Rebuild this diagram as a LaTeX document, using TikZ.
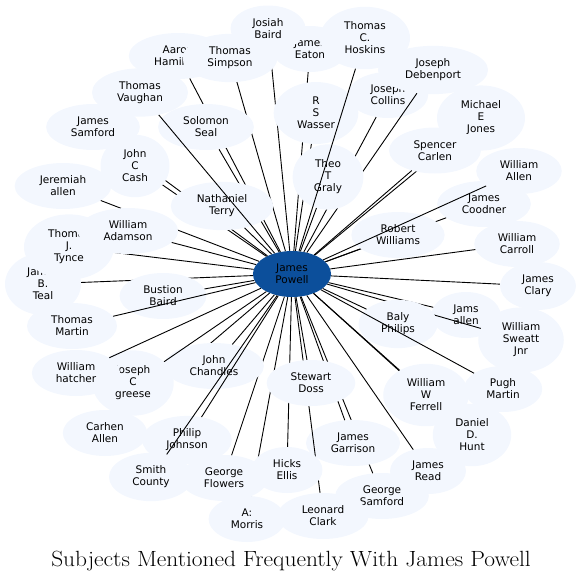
\documentclass[tikz,border=0pt]{standalone}
\usepackage{fontspec}
\newfontfamily\dejavu{DejaVu Sans}
\usetikzlibrary{shapes.geometric}
\definecolor{cPale}{RGB}{243,247,254}
\definecolor{cHub}{RGB}{12,79,155}
\newcommand{\personfont}{\dejavu\fontsize{10.5}{12}\selectfont}
\tikzset{
	person/.style={ellipse, fill=cPale, align=center, font=\personfont, inner xsep=11pt, inner ysep=6pt, minimum width=69pt, minimum height=46pt},
	hub/.style={person, fill=cHub},
	link/.style={line width=0.9pt, black},
}

\begin{document}
\begin{tikzpicture}[x=1pt, y=-1pt]
	\useasboundingbox (0,0) rectangle (583,581);
	\node[hub] (jp) at (292,274) {James\\Powell};
	% top
	\node[person] (eaton) at (310,49) {James\\Eaton}; \draw[link] (jp) -- (eaton);
	\node[person] (josiah) at (268,28.5) {Josiah\\Baird}; \draw[link] (jp) -- (josiah);
	\node[person] (aaron) at (178,56) {Aaron\\Hamilton}; \draw[link] (jp) -- (aaron);
	\node[person] (simpson) at (230,58) {Thomas\\Simpson}; \draw[link] (jp) -- (simpson);
	\node[person] (wasser) at (316,113) {R\\S\\Wasser}; \draw[link] (jp) -- (wasser);
	\node[person] (collins) at (388,95) {Joseph\\Collins}; \draw[link] (jp) -- (collins);
	\node[person] (debenport) at (433,70) {Joseph\\Debenport}; \draw[link] (jp) -- (debenport);
	\node[person] (graly) at (328,177) {Theo\\T\\Graly}; \draw[link] (jp) -- (graly);
	\node[person] (hoskins) at (365,38) {Thomas\\C.\\Hoskins}; \draw[link] (jp) -- (hoskins);
	% right
	\node[person] (jones) at (481,118) {Michael\\E\\Jones}; \draw[link] (jp) -- (jones);
	\node[person] (carlen) at (435,150.5) {Spencer\\Carlen}; \draw[link] (jp) -- (carlen);
	\node[person] (coodner) at (484,204) {James\\Coodner}; \draw[link] (jp) -- (coodner);
	\node[person] (rwilliams) at (398,235) {Robert\\Williams}; \draw[link] (jp) -- (rwilliams);
	\node[person] (wallen) at (519,171) {William\\Allen}; \draw[link] (jp) -- (wallen);
	\node[person] (carroll) at (517,244) {William\\Carroll}; \draw[link] (jp) -- (carroll);
	\node[person] (clary) at (538,286) {James\\Clary}; \draw[link] (jp) -- (clary);
	\node[person] (jamsallen) at (466,315) {Jams\\allen}; \draw[link] (jp) -- (jamsallen);
	\node[person] (sweatt) at (521,340) {William\\Sweatt\\Jnr}; \draw[link] (jp) -- (sweatt);
	\node[person] (baly) at (398,324) {Baly\\Philips}; \draw[link] (jp) -- (baly);
	\node[person] (pugh) at (503,389) {Pugh\\Martin}; \draw[link] (jp) -- (pugh);
	% bottom
	\node[person] (hunt) at (472,435) {Daniel\\D.\\Hunt}; \draw[link] (jp) -- (hunt);
	\node[person] (ferrell) at (426,395) {William\\W\\Ferrell}; \draw[link] (jp) -- (ferrell);
	\node[person] (gsamford) at (382,496) {George\\Samford}; \draw[link] (jp) -- (gsamford);
	\node[person] (garrison) at (353,443) {James\\Garrison}; \draw[link] (jp) -- (garrison);
	\node[person] (read) at (428,471) {James\\Read}; \draw[link] (jp) -- (read);
	\node[person] (morris) at (247,519) {A:\\Morris}; \draw[link] (jp) -- (morris);
	\node[person] (lclark) at (323,516) {Leonard\\Clark}; \draw[link] (jp) -- (lclark);
	\node[person] (hicks) at (287,470) {Hicks\\Ellis}; \draw[link] (jp) -- (hicks);
	\node[person] (flowers) at (224,478) {George\\Flowers}; \draw[link] (jp) -- (flowers);
	\node[person] (doss) at (311,383) {Stewart\\Doss}; \draw[link] (jp) -- (doss);
	\node[person] (carhen) at (105,433) {Carhen\\Allen}; \draw[link] (jp) -- (carhen);
	\node[person] (chandles) at (214,366) {John\\Chandles}; \draw[link] (jp) -- (chandles);
	\node[person] (greese) at (133,383) {Joseph\\C\\greese}; \draw[link] (jp) -- (greese);
	\node[person] (hatcher) at (76,373) {William\\hatcher}; \draw[link] (jp) -- (hatcher);
	\node[person] (philip) at (187,440) {Philip\\Johnson}; \draw[link] (jp) -- (philip);
	\node[person] (smith) at (151,477) {Smith\\County}; \draw[link] (jp) -- (smith);
	% left
	\node[person] (teal) at (43,284) {James\\B.\\Teal}; \draw[link] (jp) -- (teal);
	\node[person] (tynce) at (69,247) {Thomas\\J.\\Tynce}; \draw[link] (jp) -- (tynce);
	\node[person] (jeremiah) at (63,186) {Jeremiah\\allen}; \draw[link] (jp) -- (jeremiah);
	\node[person] (adamson) at (128,231) {William\\Adamson}; \draw[link] (jp) -- (adamson);
	\node[person] (bustion) at (163,296) {Bustion\\Baird}; \draw[link] (jp) -- (bustion);
	\node[person] (tmartin) at (72,326) {Thomas\\Martin}; \draw[link] (jp) -- (tmartin);
	\node[person] (jsamford) at (93,127) {James\\Samford}; \draw[link] (jp) -- (jsamford);
	\node[person] (cash) at (135,166) {John\\C\\Cash}; \draw[link] (jp) -- (cash);
	\node[person] (seal) at (206,127) {Solomon\\Seal}; \draw[link] (jp) -- (seal);
	\node[person] (terry) at (222,206) {Nathaniel\\Terry}; \draw[link] (jp) -- (terry);
	\node[person] (vaughan) at (140,92.5) {Thomas\\Vaughan}; \draw[link] (jp) -- (vaughan);
	\node[font=\fontsize{22}{26}\selectfont, anchor=base] (title) at (291,566) {\scalebox{1.064}[1]{Subjects Mentioned Frequently With James Powell}};
\end{tikzpicture}
\end{document}
